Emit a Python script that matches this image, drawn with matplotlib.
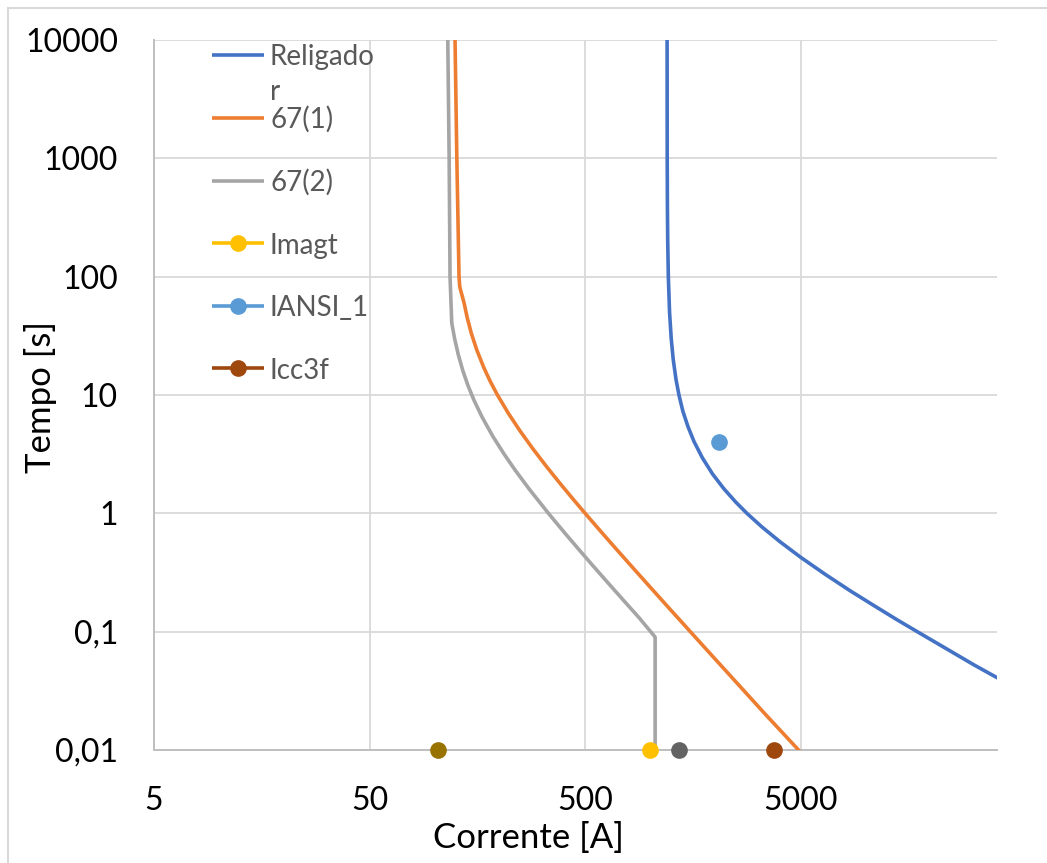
import matplotlib
matplotlib.use("Agg")
import matplotlib.pyplot as plt
from matplotlib.lines import Line2D
from matplotlib.ticker import FixedLocator, FixedFormatter, NullLocator

plt.rcParams['font.family'] = ['Lato', 'DejaVu Sans']

# ---------------- data ----------------
religador_I = [1200.2, 1201.6, 1204, 1208, 1216, 1232, 1254, 1281, 1320, 1362, 1420, 1500, 1600,
               1750, 1950, 2200, 2500, 2815, 3300, 4000, 5000, 6500, 8500, 11000, 14000, 18000,
               24000, 32000, 42000]
religador_t = [10000, 1000, 400, 200, 100, 50, 30, 20, 13.5, 10, 7.3, 5.4, 4.04,
               2.94, 2.15, 1.615, 1.243, 1.0, 0.769, 0.577, 0.425, 0.305, 0.221, 0.165, 0.126, 0.0962,
               0.0708, 0.0521, 0.0396]

r67_1_I = [124.6, 127, 130, 131, 137.2, 141.9, 148.4, 157.2, 169.5, 181.6, 196, 220.2, 248.9,
           286.5, 330.1, 381.5, 442.4, 500, 592.3, 696.5, 828.7, 977.4, 1182, 1405, 1538,
           1983, 2595, 3431, 4886]
r67_1_t = [10000, 1000, 100, 82, 60, 45, 33, 24, 17, 13, 10, 7, 5,
           3.5, 2.5, 1.8, 1.3, 1.0, 0.7, 0.5, 0.35, 0.25, 0.17, 0.12, 0.1,
           0.06, 0.035, 0.02, 0.01]

r67_2_I = [115.3, 117, 118.1, 120.3, 124.0, 128.9, 135.5, 143.1, 152.7, 166.4, 186.2, 209.6,
           237.5, 275.4, 337.9, 397.5, 469.7, 551.4, 641.3, 761.5, 893.5, 1056, 1056]
r67_2_t = [10000, 1000, 100, 40.6, 30, 22, 16, 12, 9, 6.5, 4.5, 3.2,
           2.3, 1.6, 1.0, 0.7, 0.49, 0.35, 0.256, 0.18, 0.13, 0.09, 0.01]

imagt_I, imagt_t = [1000], [0.01]
iansi_I, iansi_t = [2100], [4.0]
icc3f_I, icc3f_t = [3740], [0.01]
extra1_I, extra1_t = [104], [0.01]
extra2_I, extra2_t = [1370], [0.01]

x_ticks = [5, 50, 500, 5000]
x_labels = ["5", "50", "500", "5000"]
y_ticks = [0.01, 0.1, 1, 10, 100, 1000, 10000]
y_labels = ["0,01", "0,1", "1", "10", "100", "1000", "10000"]

legend_labels = ["Religado", "67(1)", "67(2)", "Imagt", "IANSI_1", "Icc3f"]

# ---------------- styling ----------------
C_REL = '#4472C4'
C_67_1 = '#ED7D31'
C_67_2 = '#A5A5A5'
C_IMAGT = '#FFC000'
C_IANSI = '#5B9BD5'
C_ICC = '#9E480E'
C_EX1 = '#997300'
C_EX2 = '#636363'

W, H = 1047, 863
fig = plt.figure(figsize=(W / 100, H / 100), dpi=100)
L, R, B, T = 154, 997, 750, 40
ax = fig.add_axes([L / W, 1 - B / H, (R - L) / W, (B - T) / H])
ax.set_xscale('log')
ax.set_yscale('log')
ax.set_xlim(5, 40700)
ax.set_ylim(0.01, 10000)

lw = 2.6
ax.plot(religador_I, religador_t, color=C_REL, lw=lw, zorder=3, solid_joinstyle='round')
ax.plot(r67_1_I, r67_1_t, color=C_67_1, lw=lw, zorder=3, solid_joinstyle='round')
ax.plot(r67_2_I, r67_2_t, color=C_67_2, lw=lw, zorder=3, solid_joinstyle='round')

ms = 11
for xs, ys, c in [(imagt_I, imagt_t, C_IMAGT), (iansi_I, iansi_t, C_IANSI),
                  (icc3f_I, icc3f_t, C_ICC), (extra1_I, extra1_t, C_EX1),
                  (extra2_I, extra2_t, C_EX2)]:
    ax.plot(xs, ys, 'o', color=c, ms=ms, mec=c, zorder=5, clip_on=False)

ax.xaxis.set_major_locator(FixedLocator(x_ticks))
ax.xaxis.set_major_formatter(FixedFormatter(x_labels))
ax.yaxis.set_major_locator(FixedLocator(y_ticks))
ax.yaxis.set_major_formatter(FixedFormatter(y_labels))
ax.xaxis.set_minor_locator(NullLocator())
ax.yaxis.set_minor_locator(NullLocator())
ax.tick_params(axis='both', length=0, labelsize=23, colors='black')
ax.tick_params(axis='x', pad=26)
ax.tick_params(axis='y', pad=26)

ax.grid(True, which='major', color='#D9D9D9', lw=1.3, zorder=0)
ax.set_axisbelow(True)
for s in ['top', 'right']:
    ax.spines[s].set_visible(False)
for s in ['left', 'bottom']:
    ax.spines[s].set_color('#BFBFBF')
    ax.spines[s].set_linewidth(1.4)

ax.set_xlabel('Corrente [A]', fontsize=25, va='center', ha='center')
ax.xaxis.set_label_coords((528 - L) / (R - L), (B - 838) / (B - T))
ax.set_ylabel('Tempo [s]', fontsize=25, va='center', ha='center')
ax.yaxis.set_label_coords((40 - L) / (R - L), (B - 397) / (B - T))

# chart-area border (cropped at right and bottom)
def fx(px):
    return px / W
def fy(py):
    return 1 - py / H

fig.add_artist(Line2D([fx(8), fx(8)], [0, fy(8)], transform=fig.transFigure, color='#D9D9D9', lw=1.5))
fig.add_artist(Line2D([fx(8), 1], [fy(8), fy(8)], transform=fig.transFigure, color='#D9D9D9', lw=1.5))

# legend (Excel style, label wrapped)
leg_colors = [C_REL, C_67_1, C_67_2, C_IMAGT, C_IANSI, C_ICC]
leg_marker = [False, False, False, True, True, True]
leg_y = [55, 117.7, 180.7, 243.3, 306, 368.3]
for lab, c, mk, yy in zip(legend_labels, leg_colors, leg_marker, leg_y):
    fig.add_artist(Line2D([fx(212), fx(264)], [fy(yy), fy(yy)], transform=fig.transFigure,
                          color=c, lw=lw, solid_capstyle='butt'))
    if mk:
        fig.add_artist(Line2D([fx(238)], [fy(yy)], transform=fig.transFigure, marker='o',
                              ms=ms, color=c, mec=c, lw=0))
    fig.text(fx(270), fy(yy + 10.5), lab, fontsize=20, color='#595959', va='baseline', ha='left')
fig.text(fx(270), fy(100), 'r', fontsize=20, color='#595959', va='baseline', ha='left')

fig.savefig('out.png', dpi=100, facecolor='white')
